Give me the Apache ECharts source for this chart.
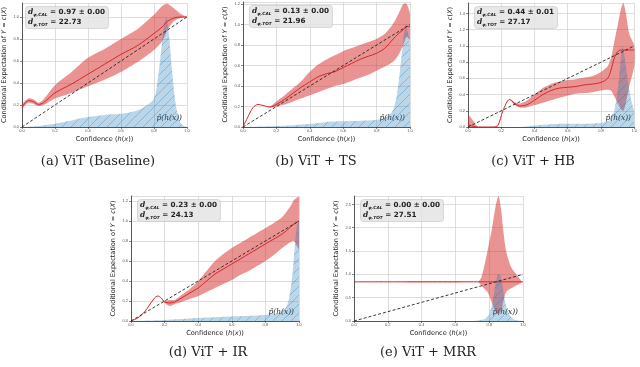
<!DOCTYPE html>
<html>
<head>
<meta charset="utf-8">
<script src="https://cdn.jsdelivr.net/npm/echarts@6/dist/echarts.min.js"></script>
<style>
  html, body { margin: 0; padding: 0; background: #fff; }
  #chart { width: 640px; height: 367px; }
</style>
</head>
<body>
<div id="chart"></div>
<script>
// --- data ---
const captions = ['(a) ViT (Baseline)', '(b) ViT + TS', '(c) ViT + HB', '(d) ViT + IR', '(e) ViT + MRR']
const calScores = ['0.97 ± 0.00', '0.13 ± 0.00', '0.44 ± 0.01', '0.23 ± 0.00', '0.00 ± 0.00']
const totScores = ['22.73', '21.96', '27.17', '24.13', '27.51']
const diagonal = [[0, 0], [1, 1]]

// (a) baseline
const xA = [0, 0.02, 0.04, 0.07, 0.1, 0.13, 0.2, 0.3, 0.4, 0.5, 0.6, 0.7, 0.8, 0.85, 0.88, 0.92, 0.96, 1.0]
const meanA = [0.18, 0.22, 0.24, 0.23, 0.205, 0.22, 0.31, 0.39, 0.48, 0.57, 0.66, 0.74, 0.85, 0.91, 0.96, 0.99, 1.0, 1.0]
const loA = [0.16, 0.2, 0.22, 0.21, 0.19, 0.2, 0.26, 0.31, 0.37, 0.43, 0.5, 0.59, 0.7, 0.78, 0.88, 0.96, 0.99, 1.0]
const hiA = [0.2, 0.24, 0.26, 0.25, 0.22, 0.25, 0.38, 0.5, 0.63, 0.71, 0.8, 0.89, 1.02, 1.1, 1.12, 1.08, 1.03, 1.0]
const dxA = [0, 0.1, 0.2, 0.3, 0.4, 0.5, 0.6, 0.7, 0.75, 0.8, 0.82, 0.84, 0.86, 0.875, 0.89, 0.91, 0.93, 0.95, 0.97, 1.0]
const densA = [0, 0.01, 0.03, 0.06, 0.09, 0.11, 0.12, 0.15, 0.19, 0.26, 0.4, 0.65, 0.92, 1.0, 0.85, 0.5, 0.22, 0.08, 0.02, 0]

// (b) temperature scaling
const xB = [0, 0.03, 0.06, 0.09, 0.12, 0.16, 0.2, 0.25, 0.3, 0.35, 0.4, 0.45, 0.5, 0.55, 0.6, 0.65, 0.7, 0.75, 0.8, 0.85, 0.9, 0.93, 0.96, 0.98, 1.0]
const meanB = [0, 0.1, 0.19, 0.22, 0.21, 0.195, 0.22, 0.27, 0.33, 0.39, 0.44, 0.49, 0.52, 0.54, 0.58, 0.62, 0.66, 0.69, 0.72, 0.77, 0.86, 0.91, 0.95, 0.98, 0.98]
const loB = [0, 0.1, 0.19, 0.22, 0.21, 0.19, 0.2, 0.22, 0.25, 0.28, 0.31, 0.34, 0.37, 0.4, 0.42, 0.45, 0.48, 0.51, 0.55, 0.59, 0.64, 0.7, 0.8, 0.88, 0.85]
const hiB = [0, 0.1, 0.19, 0.22, 0.21, 0.2, 0.25, 0.31, 0.38, 0.45, 0.54, 0.61, 0.66, 0.7, 0.74, 0.77, 0.8, 0.83, 0.86, 0.91, 1.01, 1.1, 1.2, 1.2, 1.1]
const dxB = [0, 0.2, 0.4, 0.5, 0.6, 0.7, 0.8, 0.85, 0.88, 0.9, 0.92, 0.94, 0.96, 0.975, 0.99, 1.0]
const densB = [0, 0.01, 0.03, 0.05, 0.055, 0.06, 0.07, 0.09, 0.12, 0.17, 0.3, 0.55, 0.85, 1.0, 0.9, 0.82]

// (c) histogram binning
const xC = [0, 0.03, 0.06, 0.1, 0.15, 0.18, 0.21, 0.25, 0.28, 0.31, 0.35, 0.4, 0.45, 0.5, 0.55, 0.6, 0.65, 0.7, 0.75, 0.8, 0.84, 0.86, 0.88, 0.9, 0.92, 0.935, 0.95, 0.97, 1.0]
const meanC = [0.03, 0.01, 0, 0, 0, 0.02, 0.2, 0.34, 0.29, 0.26, 0.27, 0.33, 0.4, 0.45, 0.48, 0.49, 0.5, 0.52, 0.53, 0.55, 0.6, 0.7, 0.85, 0.93, 0.95, 0.95, 0.95, 0.95, 0.95]
const loC = [0, 0, 0, 0, 0, 0.01, 0.2, 0.34, 0.27, 0.24, 0.24, 0.27, 0.3, 0.33, 0.36, 0.39, 0.41, 0.42, 0.43, 0.45, 0.46, 0.45, 0.38, 0.3, 0.22, 0.2, 0.3, 0.5, 0.75]
const hiC = [0.15, 0.08, 0, 0, 0, 0.02, 0.2, 0.34, 0.31, 0.29, 0.32, 0.4, 0.48, 0.53, 0.56, 0.58, 0.59, 0.61, 0.63, 0.68, 0.75, 0.85, 1.05, 1.25, 1.45, 1.53, 1.4, 1.15, 1.0]
const dxC = [0, 0.3, 0.4, 0.5, 0.6, 0.7, 0.8, 0.84, 0.86, 0.88, 0.9, 0.92, 0.93, 0.94, 0.96, 0.98, 1.0]
const densC = [0, 0, 0.02, 0.035, 0.04, 0.04, 0.05, 0.07, 0.1, 0.2, 0.45, 0.85, 1.0, 0.9, 0.6, 0.35, 0.2]

// (d) isotonic regression
const xD = [0, 0.04, 0.08, 0.11, 0.14, 0.16, 0.18, 0.2, 0.23, 0.26, 0.3, 0.35, 0.4, 0.45, 0.5, 0.55, 0.6, 0.65, 0.7, 0.75, 0.8, 0.85, 0.9, 0.95, 0.97, 1.0]
const meanD = [0, 0.03, 0.09, 0.16, 0.23, 0.25, 0.23, 0.19, 0.18, 0.19, 0.23, 0.28, 0.33, 0.4, 0.47, 0.52, 0.57, 0.62, 0.67, 0.72, 0.77, 0.82, 0.87, 0.94, 0.97, 1.0]
const loD = [0, 0.03, 0.09, 0.16, 0.23, 0.25, 0.23, 0.18, 0.15, 0.17, 0.19, 0.22, 0.25, 0.29, 0.33, 0.37, 0.41, 0.46, 0.5, 0.55, 0.6, 0.66, 0.73, 0.79, 0.8, 0.72]
const hiD = [0, 0.03, 0.09, 0.16, 0.23, 0.25, 0.23, 0.2, 0.21, 0.21, 0.26, 0.32, 0.4, 0.5, 0.6, 0.67, 0.73, 0.78, 0.83, 0.88, 0.93, 0.98, 1.04, 1.15, 1.21, 1.24]
const dxD = [0, 0.2, 0.4, 0.6, 0.8, 0.88, 0.92, 0.94, 0.96, 0.97, 0.98, 0.99, 1.0]
const densD = [0, 0.01, 0.03, 0.045, 0.06, 0.08, 0.13, 0.22, 0.45, 0.65, 0.85, 0.97, 1.0]

// (e) MRR
const xE = [0, 0.73, 0.755, 0.79, 0.815, 0.835, 0.855, 0.87, 0.883, 0.9, 0.93, 0.96, 0.99, 1.0]
const meanE = [0.84, 0.84, 0.84, 0.84, 0.84, 0.84, 0.84, 0.84, 0.84, 0.84, 0.84, 0.84, 0.84, 0.84]
const loE = [0.84, 0.84, 0.75, 0.62, 0.4, 0.22, 0.15, 0.22, 0.4, 0.62, 0.7, 0.76, 0.82, 0.84]
const hiE = [0.84, 0.84, 0.95, 1.5, 1.95, 2.4, 2.68, 2.4, 1.95, 1.5, 1.15, 1.0, 0.86, 0.84]
const dxE = [0, 0.7, 0.75, 0.78, 0.8, 0.82, 0.835, 0.85, 0.86, 0.875, 0.89, 0.91, 0.94, 0.97, 1.0]
const densE = [0, 0, 0.02, 0.06, 0.15, 0.4, 0.75, 0.98, 1.0, 0.85, 0.5, 0.2, 0.05, 0.01, 0]

// --- layout of the five panels ---
const panels = [
    { x: xA, mean: meanA, lo: loA, hi: hiA, dx: dxA, dens: densA, grid: [19, 3, 168, 124], ymax: 1.127, step: 0.2, capX: 98, capY: 162 },
    { x: xB, mean: meanB, lo: loB, hi: hiB, dx: dxB, dens: densB, grid: [243, 2, 167, 125], ymax: 1.22, step: 0.2, capX: 316, capY: 162 },
    { x: xC, mean: meanC, lo: loC, hi: hiC, dx: dxC, dens: densC, grid: [468, 3, 168, 124], ymax: 1.53, step: 0.2, capX: 533, capY: 162 },
    { x: xD, mean: meanD, lo: loD, hi: hiD, dx: dxD, dens: densD, grid: [131, 196, 168, 125], ymax: 1.25, step: 0.2, capX: 208, capY: 353 },
    { x: xE, mean: meanE, lo: loE, hi: hiE, dx: dxE, dens: densE, grid: [354, 196, 169, 125], ymax: 2.68, step: 0.5, capX: 428, capY: 353 }
]

// hatched light blue fill like matplotlib's hatch='/'
function hatchPattern() {
    const c = document.createElement('canvas')
    c.width = 9
    c.height = 9
    const g = c.getContext('2d')
    g.fillStyle = 'rgba(31,119,180,0.3)'
    g.fillRect(0, 0, 9, 9)
    g.strokeStyle = 'rgba(31,119,180,0.55)'
    g.lineWidth = 0.6
    g.beginPath()
    g.moveTo(0, 9); g.lineTo(9, 0)
    g.moveTo(-1, 1); g.lineTo(1, -1)
    g.moveTo(8, 10); g.lineTo(10, 8)
    g.stroke()
    return c
}
const hatch = hatchPattern()

// confidence band as one polygon, upper edge then lower edge back
function bandRenderer(p) {
    return function (params, api) {
        if (params.dataIndex !== 0) return null
        const top = p.x.map((v, k) => api.coord([v, p.hi[k]]))
        const bottom = p.x.map((v, k) => api.coord([v, p.lo[k]])).reverse()
        return {
            type: 'polygon',
            shape: { points: top.concat(bottom), smooth: 0.25 },
            style: { fill: 'rgba(214,39,40,0.5)' }
        }
    }
}

const grids = [], xAxes = [], yAxes = [], series = [], titles = [], graphics = []
const ital = { fontStyle: 'italic', fontFamily: 'DejaVu Sans', fontSize: 6.6 }

panels.forEach((p, i) => {
    grids.push({ left: p.grid[0], top: p.grid[1], width: p.grid[2], height: p.grid[3] })
    xAxes.push({
        gridIndex: i, type: 'value', min: 0, max: 1, interval: 0.2,
        name: 'Confidence ({i|h}({i|x}))', nameLocation: 'middle', nameGap: 9,
        nameTextStyle: { fontSize: 6.6, color: '#222', fontFamily: 'DejaVu Sans', rich: { i: ital } },
        axisLine: { lineStyle: { color: '#333', width: 0.8 } },
        axisTick: { length: 2, lineStyle: { color: '#333', width: 0.6 } },
        axisLabel: { fontSize: 4, color: '#555', margin: 2, formatter: v => v.toFixed(1) },
        splitLine: { lineStyle: { color: '#d0d0d0', width: 0.7 } }
    })
    yAxes.push({
        gridIndex: i, type: 'value', min: 0, max: p.ymax, interval: p.step,
        name: 'Conditional Expectation of {i|Y} = {i|c}({i|X})', nameLocation: 'middle', nameGap: 14, nameRotate: 90,
        nameTextStyle: { fontSize: 6.6, color: '#222', fontFamily: 'DejaVu Sans', rich: { i: ital } },
        axisLine: { show: true, lineStyle: { color: '#333', width: 0.8 } },
        axisTick: { show: true, length: 2, lineStyle: { color: '#333', width: 0.6 } },
        axisLabel: { fontSize: 4, color: '#555', margin: 3, showMaxLabel: false, formatter: v => v.toFixed(1) },
        splitLine: { lineStyle: { color: '#d0d0d0', width: 0.7 } }
    })
    const common = { type: 'line', xAxisIndex: i, yAxisIndex: i, symbol: 'none', silent: true, smooth: 0.3 }
    series.push({
        type: 'custom', xAxisIndex: i, yAxisIndex: i, silent: true, clip: true,
        data: p.x.map((v, k) => [v, p.lo[k], p.hi[k]]),
        encode: { x: 0, y: [1, 2] },
        renderItem: bandRenderer(p)
    })
    series.push({ ...common, data: p.dx.map((v, k) => [v, p.dens[k]]),
        lineStyle: { opacity: 0 }, areaStyle: { color: { image: hatch, repeat: 'repeat' }, opacity: 1 } })
    series.push({ ...common, data: p.x.map((v, k) => [v, p.mean[k]]), lineStyle: { color: '#d62728', width: 1 } })
    series.push({ ...common, smooth: false, data: diagonal, lineStyle: { color: '#222', width: 0.9, type: [3, 2] } })

    titles.push({
        left: p.grid[0] + 6, top: p.grid[1] + 2,
        text: `{d|d}{s|φ,CAL}{n| = ${calScores[i]}}\n{d|d}{s|φ,TOT}{n| = ${totScores[i]}}`,
        backgroundColor: 'rgba(228,228,228,0.85)', borderColor: '#c4c4c4', borderWidth: 0.6, borderRadius: 3,
        padding: [2, 4, 2, 3],
        textStyle: {
            rich: {
                d: { fontStyle: 'italic', fontFamily: 'DejaVu Serif', fontSize: 7.5, color: '#222', lineHeight: 10 },
                s: { fontStyle: 'italic', fontFamily: 'DejaVu Sans', fontSize: 4.3, color: '#222', lineHeight: 10, verticalAlign: 'bottom' },
                n: { fontFamily: 'DejaVu Sans', fontSize: 7.2, color: '#222', lineHeight: 10 }
            }
        }
    })
    graphics.push({
        type: 'text', x: p.grid[0] + p.grid[2] - 5, y: p.grid[1] + p.grid[3] - 9,
        style: { text: 'p̂(h(x))', fontFamily: 'DejaVu Serif', fontStyle: 'italic', fontSize: 7.5, fill: '#222',
            textAlign: 'right', textVerticalAlign: 'middle' }
    })
    graphics.push({
        type: 'text', x: p.capX, y: p.capY,
        style: { text: captions[i], fontFamily: 'DejaVu Serif', fontSize: 13, fill: '#222',
            textAlign: 'center', textVerticalAlign: 'middle' }
    })
})

const chart = echarts.init(document.getElementById('chart'))
chart.setOption({
    animation: false,
    backgroundColor: '#fff',
    title: titles,
    grid: grids,
    xAxis: xAxes,
    yAxis: yAxes,
    series: series,
    graphic: graphics
})
</script>
</body>
</html>
